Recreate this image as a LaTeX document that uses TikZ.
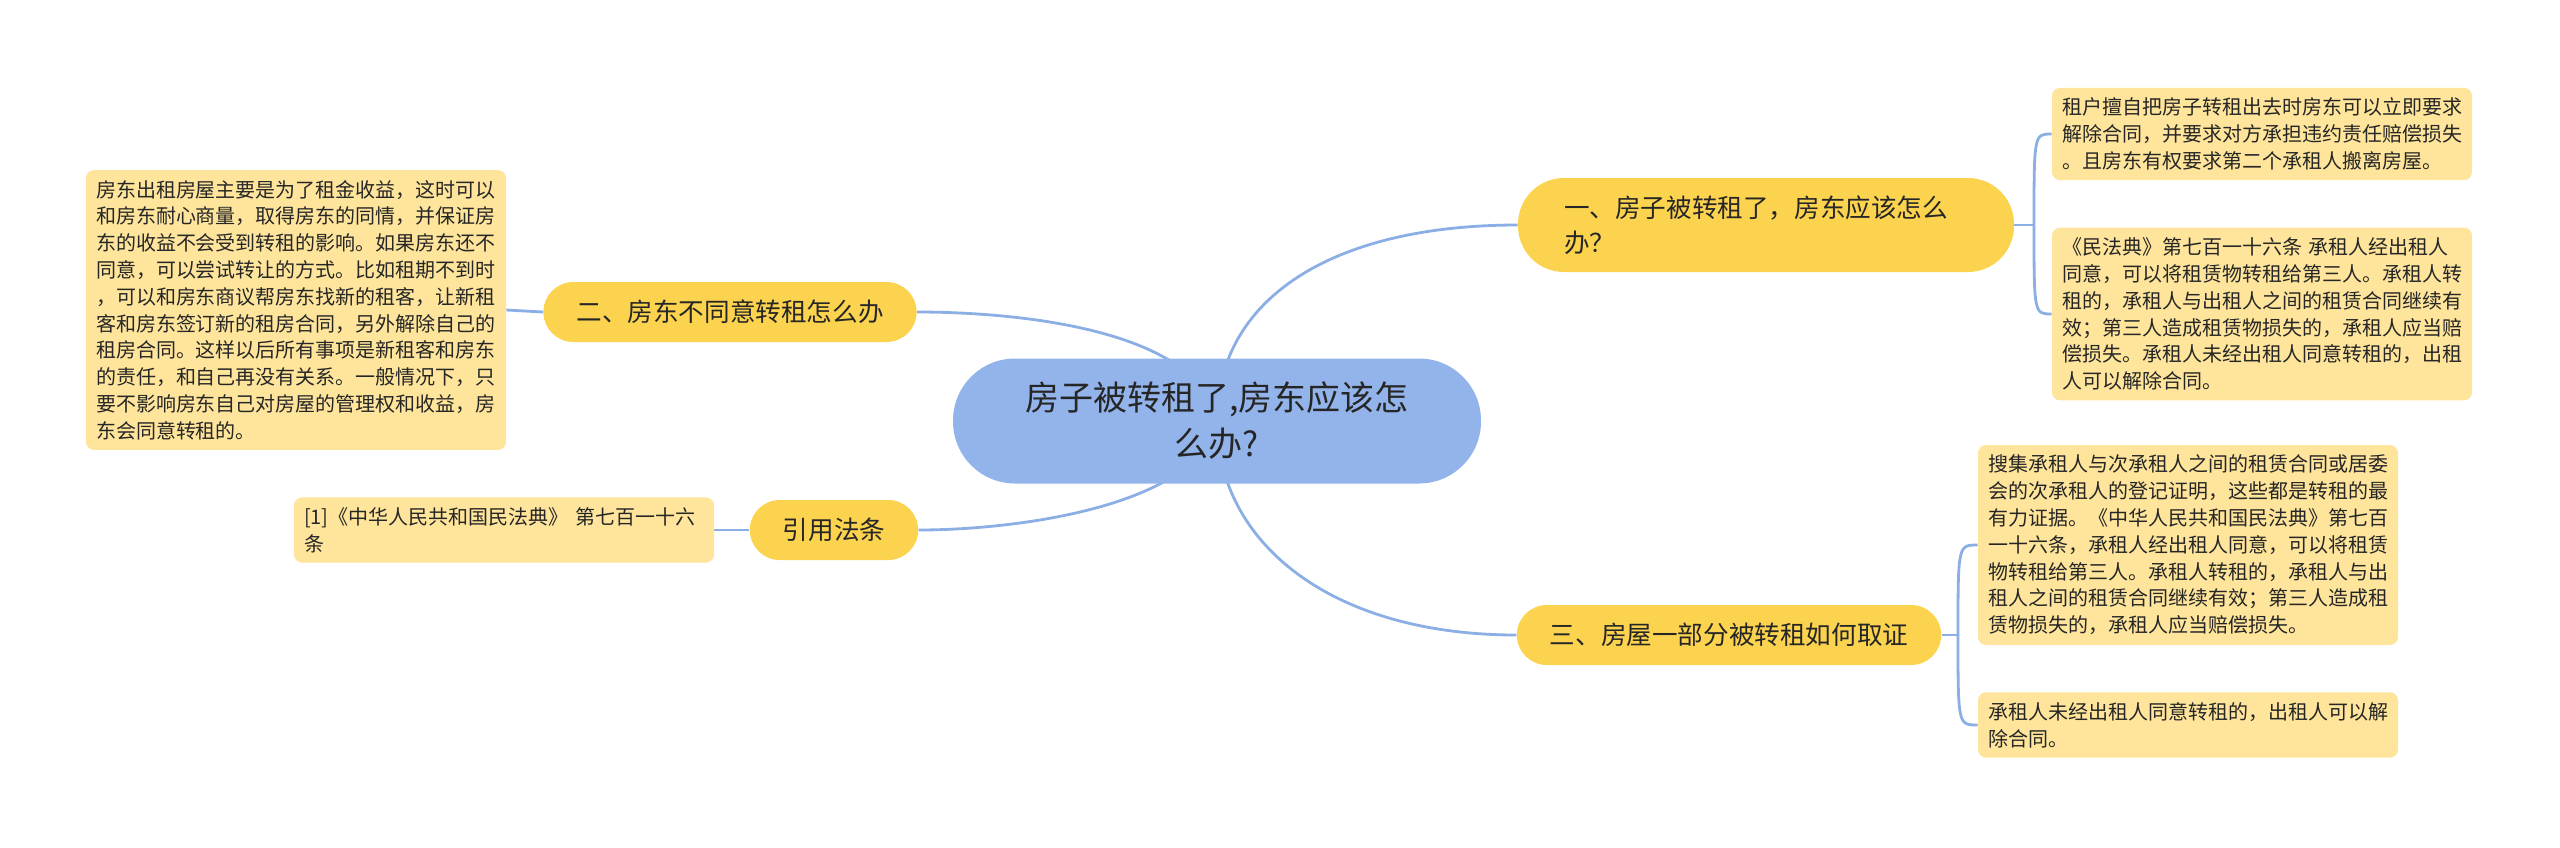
\documentclass[tikz,border=0pt]{standalone}
\usepackage{fontspec}
\setmainfont{Noto Sans CJK SC}
\usepackage{tikz}
\usetikzlibrary{backgrounds}
\definecolor{hubblue}{HTML}{93B4EA}
\definecolor{branchyellow}{HTML}{FCD34F}
\definecolor{leafyellow}{HTML}{FEE59B}
\definecolor{linkblue}{HTML}{8BAEE4}
\definecolor{inkgray}{HTML}{262626}

\begin{document}
\begin{tikzpicture}[x=0.5pt, y=-0.5pt,
    hub/.style={fill=hubblue, text=inkgray, rounded corners=31pt, minimum width=264pt, minimum height=62.5pt, align=center, font=\fontsize{17}{23}\selectfont},
    branch/.style={fill=branchyellow, text=inkgray, rounded corners=15pt, inner xsep=16.5pt, inner ysep=0pt, minimum height=30pt, font=\fontsize{12.8}{17.5}\selectfont},
    leaf/.style={fill=leafyellow, text=inkgray, rounded corners=4pt, inner xsep=5pt, inner ysep=5pt, text width=200pt, align=left, font=\fontsize{10}{13.4}\selectfont},
    link/.style={draw=linkblue, line width=1.4pt}]
    \useasboundingbox (0,0) rectangle (2560,847);

    \node[hub] (root) at (1217,421) {房子被转租了,房东应该怎\\么办?};

    \node[branch, text width=202pt, align=left, inner xsep=23pt, minimum height=47pt, rounded corners=23pt] (b1) at (1766,225) {一、房子被转租了，房东应该怎么\\办？};
    \node[branch] (b2) at (730,312) {二、房东不同意转租怎么办};
    \node[branch] (b3) at (1729,635) {三、房屋一部分被转租如何取证};
    \node[branch] (b4) at (834,530) {引用法条};

    \node[leaf] (l1) at (2262,134) {租户擅自把房子转租出去时房东可以立即要求\\解除合同，并要求对方承担违约责任赔偿损失\\。且房东有权要求第二个承租人搬离房屋。};
    \node[leaf] (l2) at (2262,314) {《民法典》第七百一十六条 承租人经出租人\\同意，可以将租赁物转租给第三人。承租人转\\租的，承租人与出租人之间的租赁合同继续有\\效；第三人造成租赁物损失的，承租人应当赔\\偿损失。承租人未经出租人同意转租的，出租\\人可以解除合同。};
    \node[leaf] (l3) at (2188,545) {搜集承租人与次承租人之间的租赁合同或居委\\会的次承租人的登记证明，这些都是转租的最\\有力证据。《中华人民共和国民法典》第七百\\一十六条，承租人经出租人同意，可以将租赁\\物转租给第三人。承租人转租的，承租人与出\\租人之间的租赁合同继续有效；第三人造成租\\赁物损失的，承租人应当赔偿损失。};
    \node[leaf] (l4) at (2188,725) {承租人未经出租人同意转租的，出租人可以解\\除合同。};
    \node[leaf] (l5) at (296,310) {房东出租房屋主要是为了租金收益，这时可以\\和房东耐心商量，取得房东的同情，并保证房\\东的收益不会受到转租的影响。如果房东还不\\同意，可以尝试转让的方式。比如租期不到时\\，可以和房东商议帮房东找新的租客，让新租\\客和房东签订新的租房合同，另外解除自己的\\租房合同。这样以后所有事项是新租客和房东\\的责任，和自己再没有关系。一般情况下，只\\要不影响房东自己对房屋的管理权和收益，房\\东会同意转租的。};
    \node[leaf] (l6) at (504,530) {[1]《中华人民共和国民法典》 第七百一十六\\条};

    \coordinate (j1) at (2034,225);
    \coordinate (j3) at (1958,635);

    \begin{scope}[on background layer]
        \draw[link] (root.center) .. controls (1217,300) and (1330,225) .. (b1.west);
        \draw[link] (root.center) .. controls (1200,330) and (1020,312) .. (b2.east);
        \draw[link] (root.center) .. controls (1217,542) and (1330,635) .. (b3.west);
        \draw[link] (root.center) .. controls (1200,505) and (1020,530) .. (b4.east);
        \draw[link] (b1.east) -- (j1);
        \draw[link] (j1) .. controls (2034,134) .. (l1.west);
        \draw[link] (j1) .. controls (2034,314) .. (l2.west);
        \draw[link] (b3.east) -- (j3);
        \draw[link] (j3) .. controls (1958,545) .. (l3.west);
        \draw[link] (j3) .. controls (1958,725) .. (l4.west);
        \draw[link] (l5.east) -- (b2.west);
        \draw[link] (l6.east) -- (b4.west);
    \end{scope}
\end{tikzpicture}
\end{document}
